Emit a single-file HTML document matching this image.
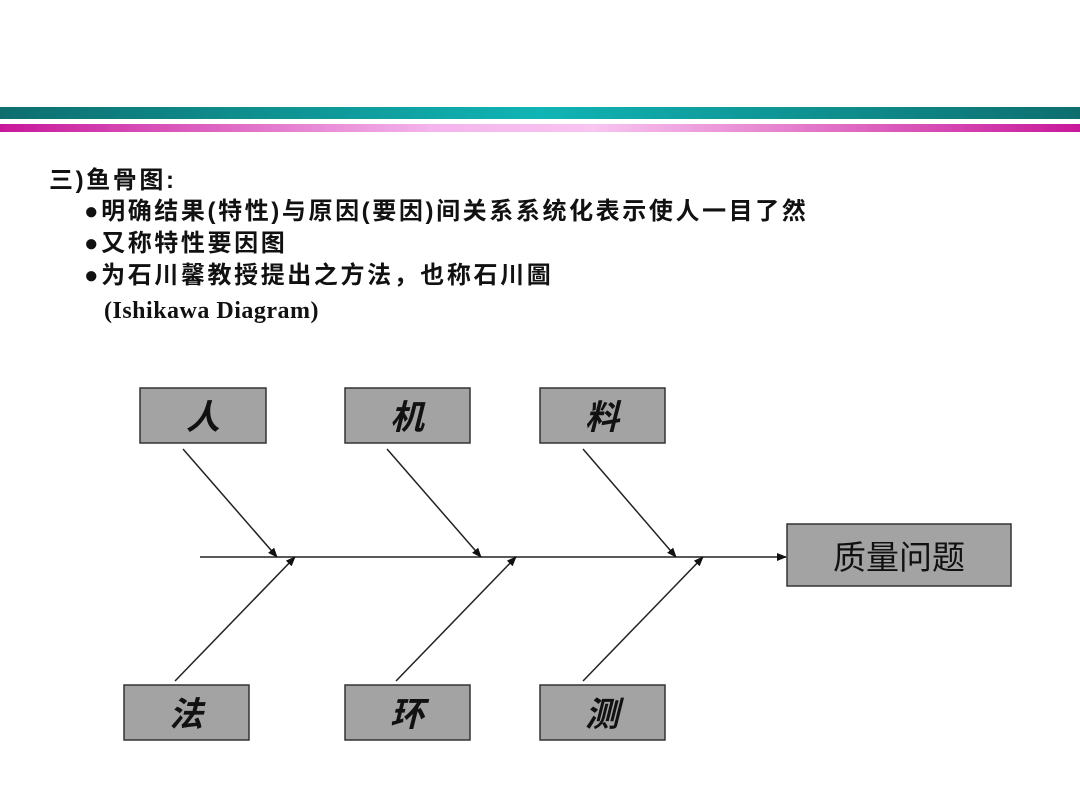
<!DOCTYPE html>
<html><head><meta charset="utf-8"><style>
body{margin:0;width:1080px;height:810px;background:#fff;overflow:hidden;position:relative;font-family:"Liberation Sans","Noto Sans CJK SC",sans-serif}
.bar1{position:absolute;left:0;top:107px;width:1080px;height:12px;background:linear-gradient(90deg,#0e6e6e,#10b4b4 50%,#0e6e6e)}
.bar2{position:absolute;left:0;top:124px;width:1080px;height:8px;background:linear-gradient(90deg,#c8189a,#f4b4ec 40%,#f8c4f0 55%,#c8189a)}
.t{position:absolute;font-weight:bold;font-size:24px;letter-spacing:2.6px;color:#111;white-space:nowrap;line-height:28px}
</style></head><body>
<div class="bar1"></div><div class="bar2"></div>
<div class="t" style="left:49px;top:167px">三)鱼骨图:</div>
<div class="t" style="left:84px;top:198px">●明确结果(特性)与原因(要因)间关系系统化表示使人一目了然</div>
<div class="t" style="left:84px;top:230px">●又称特性要因图</div>
<div class="t" style="left:84px;top:262px">●为石川馨教授提出之方法，也称石川圖</div>
<div class="t" style="left:104px;top:297px;font-family:'Liberation Serif',serif;letter-spacing:0.5px">(Ishikawa Diagram)</div>
<svg width="1080" height="810" style="position:absolute;left:0;top:0">
<defs><marker id="a" markerWidth="10" markerHeight="8" refX="9" refY="4" orient="auto" markerUnits="userSpaceOnUse"><path d="M0,0L10,4L0,8z" fill="#111"/></marker></defs>
<g fill="#a3a3a3" stroke="#333" stroke-width="1.5">
<rect x="140" y="388" width="126" height="55"/><rect x="345" y="388" width="125" height="55"/><rect x="540" y="388" width="125" height="55"/>
<rect x="124" y="685" width="125" height="55"/><rect x="345" y="685" width="125" height="55"/><rect x="540" y="685" width="125" height="55"/>
<rect x="787" y="524" width="224" height="62"/></g>
<g stroke="#222" stroke-width="1.5" fill="none" marker-end="url(#a)">
<line x1="200" y1="557" x2="786" y2="557"/>
<line x1="183" y1="449" x2="277" y2="557"/><line x1="387" y1="449" x2="481" y2="557"/><line x1="583" y1="449" x2="676" y2="557"/>
<line x1="175" y1="681" x2="295" y2="557"/><line x1="396" y1="681" x2="516" y2="557"/><line x1="583" y1="681" x2="703" y2="557"/>
</g>
<g font-family="Liberation Sans,Noto Sans CJK SC,sans-serif" font-size="34" font-style="italic" font-weight="bold" text-anchor="middle" fill="#111">
<text x="203" y="429">人</text><text x="407" y="429">机</text><text x="602" y="429">料</text>
<text x="186" y="726">法</text><text x="407" y="726">环</text><text x="602" y="726">测</text>
</g>
<text x="899" y="569" font-family="Liberation Sans,Noto Sans CJK SC,sans-serif" font-size="33" text-anchor="middle" fill="#111">质量问题</text>
</svg>
</body></html>
